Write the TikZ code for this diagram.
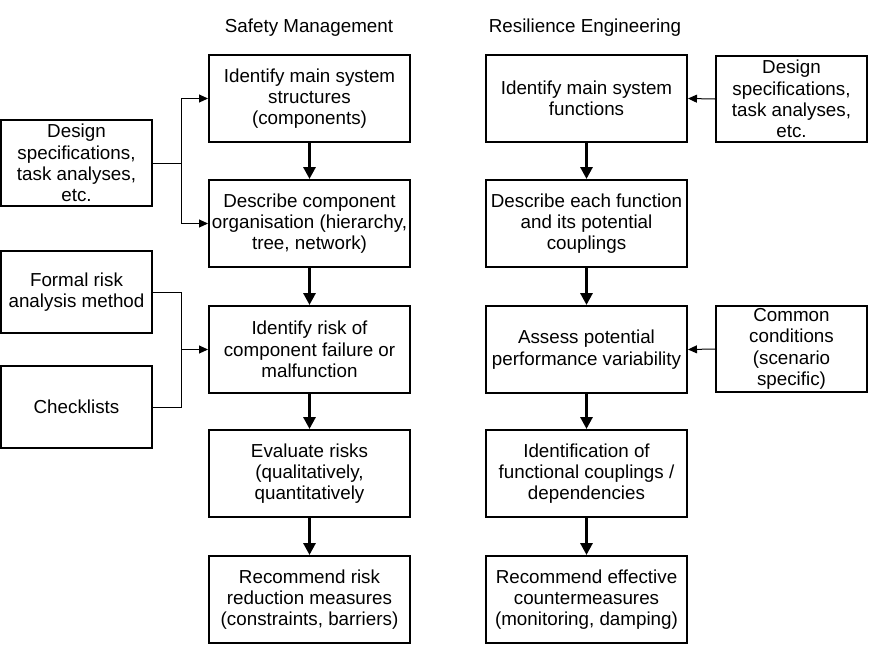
\documentclass[tikz,border=0pt]{standalone}
\usepackage{fontspec}
\setmainfont{Liberation Sans}
\usetikzlibrary{arrows.meta}
\begin{document}
\begin{tikzpicture}[x=1pt,y=-1pt,
  box/.style={draw,line width=2pt,minimum width=201pt,minimum height=87pt,align=center,inner sep=1pt,font=\fontsize{18.8}{21.3}\selectfont},
  side/.style={draw,line width=2pt,minimum width=151pt,align=center,inner sep=1pt,font=\fontsize{18.8}{21.3}\selectfont},
  flow/.style={line width=3pt,-{Triangle[length=12pt,width=12pt]}},
  feed/.style={line width=1pt,-{Triangle[length=9pt,width=8pt]}},
  thin/.style={line width=1pt},
  ttl/.style={font=\fontsize{18.8}{21}\selectfont}]
\useasboundingbox (0,0) rectangle (870,646);
\node[ttl] (t1) at (309,28) {Safety Management};
\node[ttl] (t2) at (585,28) {Resilience Engineering};
% left column
\node[box] (s1) at (309.5,98.5) {Identify main system\\structures\\(components)};
\node[box] (s2) at (309.5,223.5) {Describe component\\organisation (hierarchy,\\tree, network)};
\node[box] (s3) at (309.5,349.5) {Identify risk of\\component failure or\\malfunction};
\node[box] (s4) at (309.5,473.5) {Evaluate risks\\(qualitatively,\\quantitatively};
\node[box] (s5) at (309.5,599.5) {Recommend risk\\reduction measures\\(constraints, barriers)};
% right column
\node[box] (r1) at (586.5,98.5) {Identify main system\\functions};
\node[box] (r2) at (586.5,223.5) {Describe each function\\and its potential\\couplings};
\node[box] (r3) at (586.5,349.5) {Assess potential\\performance variability};
\node[box] (r4) at (586.5,473.5) {Identification of\\functional couplings /\\dependencies};
\node[box] (r5) at (586.5,599.5) {Recommend effective\\countermeasures\\(monitoring, damping)};
% side boxes
\node[side,minimum height=86pt] (ds) at (76.5,163) {Design\\specifications,\\task analyses,\\etc.};
\node[side,minimum height=82pt] (fr) at (76.5,292) {Formal risk\\analysis method};
\node[side,minimum height=82pt] (cl) at (76.5,407) {Checklists};
\node[side,minimum height=86pt] (rd) at (791.5,99) {Design\\specifications,\\task analyses,\\etc.};
\node[side,minimum height=86pt] (cc) at (791.5,349) {Common\\conditions\\(scenario\\specific)};
% flow arrows
\foreach \a/\b in {s1/s2,s2/s3,s3/s4,s4/s5,r1/r2,r2/r3,r3/r4,r4/r5}
  \draw[flow] (\a.south) -- (\b.north);
% left feeds
\coordinate (j1) at (181.5,163);
\draw[thin] (ds.east) -- (j1);
\draw[feed] (j1) |- (s1.west);
\draw[feed] (j1) |- (s2.west);
\coordinate (j2) at (181.5,292);
\coordinate (j3) at (181.5,407);
\draw[thin] (fr.east) -- (j2) -- (j3) -- (cl.east);
\coordinate (j4) at (181.5,349.5);
\draw[feed] (j4) -- (s3.west);
% right feeds
\draw[feed] (rd.west) -- (r1.east);
\draw[feed] (cc.west) -- (r3.east);
\end{tikzpicture}
\end{document}
